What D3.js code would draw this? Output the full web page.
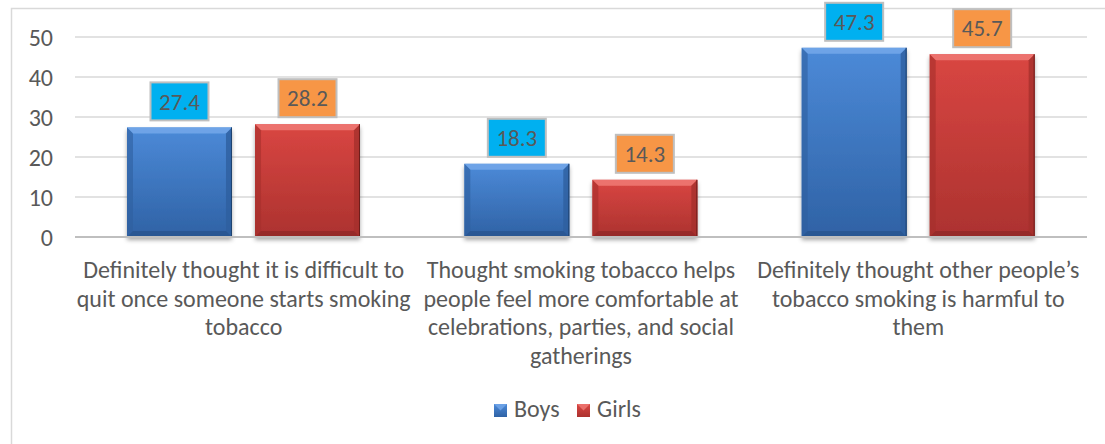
<!DOCTYPE html>
<html>
<head>
<meta charset="utf-8">
<script src="https://cdn.jsdelivr.net/npm/d3@7/dist/d3.min.js"></script>
<style>
  html, body { margin: 0; padding: 0; background: #fff; }
  svg { display: block; }
  text { font-family: Carlito, Lato, "Open Sans", sans-serif; fill: #595959; }
</style>
</head>
<body>
<svg id="chart" width="1105" height="444"></svg>
<script>
// Survey results: share of students (%) by statement and sex
const categories = [
  "Definitely thought it is difficult to quit once someone starts smoking tobacco",
  "Thought smoking tobacco helps people feel more comfortable at celebrations, parties, and social gatherings",
  "Definitely thought other people’s tobacco smoking is harmful to them"
];
const categoryLines = [
  ["Definitely thought it is difficult to", "quit once someone starts smoking", "tobacco"],
  ["Thought smoking tobacco helps", "people feel more comfortable at", "celebrations, parties, and social", "gatherings"],
  ["Definitely thought other people’s", "tobacco smoking is harmful to", "them"]
];
const seriesNames = ["Boys", "Girls"];
const boys = [27.4, 18.3, 47.3];
const girls = [28.2, 14.3, 45.7];
const yTicks = [0, 10, 20, 30, 40, 50];

const values = [boys, girls];

const svg = d3.select("#chart");
const W = 1105, H = 444;
const plot = { left: 75, right: 1087, top: 37, bottom: 237 };

const palette = {
  Boys:  { top: "#4C8AD8", bottom: "#2F62A5", light: "#74A8EA", side: "#2E5F9F", dark: "#1E426F", label: "#00B0F0" },
  Girls: { top: "#D94642", bottom: "#AC322F", light: "#F07A76", side: "#A52F2C", dark: "#6E1E1C", label: "#F79646" }
};

// Chart frame (only top and left edges fall inside the canvas)
svg.append("rect")
  .attr("x", 11.5).attr("y", 8.5)
  .attr("width", W + 20).attr("height", H + 20)
  .attr("fill", "#fff").attr("stroke", "#D9D9D9").attr("stroke-width", 1.5);

const defs = svg.append("defs");
seriesNames.forEach(s => {
  const g = defs.append("linearGradient").attr("id", "grad-" + s)
    .attr("x1", 0).attr("y1", 0).attr("x2", 0).attr("y2", 1);
  g.append("stop").attr("offset", "0%").attr("stop-color", palette[s].top);
  g.append("stop").attr("offset", "100%").attr("stop-color", palette[s].bottom);
});
const shadow = defs.append("filter").attr("id", "barShadow")
  .attr("x", "-20%").attr("y", "-20%").attr("width", "140%").attr("height", "140%");
shadow.append("feDropShadow").attr("dx", 0).attr("dy", 3).attr("stdDeviation", 2.2)
  .attr("flood-color", "#000").attr("flood-opacity", 0.35);

const x0 = d3.scaleBand().domain(d3.range(categories.length)).range([plot.left, plot.right]);
const x1 = d3.scaleBand().domain(seriesNames).range([52, 285]).paddingInner(0.18);
const y = d3.scaleLinear().domain([0, 50]).range([plot.bottom, plot.top]);

// Gridlines
svg.append("g").selectAll("line").data(yTicks.filter(t => t > 0)).join("line")
  .attr("x1", plot.left).attr("x2", plot.right)
  .attr("y1", d => y(d)).attr("y2", d => y(d))
  .attr("stroke", "#D9D9D9").attr("stroke-width", 1.5);

// Y axis labels
const yAxis = d3.axisLeft(y).tickValues(yTicks).tickSize(0).tickPadding(0);
const yg = svg.append("g").attr("transform", `translate(53,0)`).call(yAxis);
yg.select(".domain").remove();
yg.selectAll("text").attr("font-size", 24).attr("fill", "#595959")
  .style("font-family", "Carlito, Lato, sans-serif").attr("dy", "0.35em");

// Bars
const bw = x1.bandwidth();
const bev = 6;
const bars = [];
categories.forEach((c, i) => {
  seriesNames.forEach((s, j) => {
    bars.push({ i, s, v: values[j][i] });
  });
});

const barG = svg.append("g").selectAll("g").data(bars).join("g")
  .attr("transform", d => `translate(${x0(d.i) + x1(d.s)},${y(d.v)})`);

barG.append("rect")
  .attr("width", bw).attr("height", d => y(0) - y(d.v))
  .attr("fill", d => `url(#grad-${d.s})`)
  .attr("filter", "url(#barShadow)");

// bevel: top (light), sides (darker), bottom (darkest)
barG.append("path").attr("fill", d => palette[d.s].light).attr("opacity", 0.85)
  .attr("d", d => `M0,0 L${bw},0 L${bw - bev},${bev} L${bev},${bev} Z`);
barG.append("path").attr("fill", d => palette[d.s].side).attr("opacity", 0.6)
  .attr("d", d => { const h = y(0) - y(d.v); return `M0,0 L${bev},${bev} L${bev},${h - bev} L0,${h} Z`; });
barG.append("path").attr("fill", d => palette[d.s].side).attr("opacity", 0.8)
  .attr("d", d => { const h = y(0) - y(d.v); return `M${bw},0 L${bw - bev},${bev} L${bw - bev},${h - bev} L${bw},${h} Z`; });
barG.append("path").attr("fill", d => palette[d.s].dark).attr("opacity", 0.35)
  .attr("d", d => { const h = y(0) - y(d.v); return `M0,${h} L${bev},${h - bev} L${bw - bev},${h - bev} L${bw},${h} Z`; });
barG.append("line").attr("x1", bw - 0.5).attr("x2", bw - 0.5).attr("y1", 0)
  .attr("y2", d => y(0) - y(d.v)).attr("stroke", d => palette[d.s].dark).attr("stroke-width", 1);

// Baseline axis
svg.append("line").attr("x1", plot.left).attr("x2", plot.right)
  .attr("y1", y(0)).attr("y2", y(0)).attr("stroke", "#BFBFBF").attr("stroke-width", 2);

// Value labels in coloured boxes
const lab = svg.append("g").selectAll("g").data(bars).join("g")
  .attr("transform", d => `translate(${x0(d.i) + x1(d.s) + bw / 2},${y(d.v) - 26})`);
lab.append("rect").attr("x", -29).attr("y", -19).attr("width", 58).attr("height", 38)
  .attr("fill", d => palette[d.s].label).attr("stroke", "#BFBFBF").attr("stroke-width", 2);
lab.append("text").attr("text-anchor", "middle").attr("dy", "0.36em")
  .attr("font-size", 23).text(d => d.v.toFixed(1));

// Category labels
const cat = svg.append("g").selectAll("text").data(categoryLines).join("text")
  .attr("text-anchor", "middle").attr("font-size", 24)
  .attr("transform", (d, i) => `translate(${x0(i) + x0.bandwidth() / 2},278)`);
cat.selectAll("tspan").data(d => d).join("tspan")
  .attr("x", 0).attr("dy", (d, k) => k === 0 ? 0 : 28.6).text(d => d);

// Legend
const leg = svg.append("g").attr("transform", "translate(494,404)");
const legX = [0, 83];
seriesNames.forEach((s, k) => {
  const g = leg.append("g").attr("transform", `translate(${legX[k]},0)`);
  g.append("rect").attr("width", 13).attr("height", 13).attr("fill", `url(#grad-${s})`);
  g.append("path").attr("fill", palette[s].light).attr("opacity", 0.8)
    .attr("d", "M0,0 L13,0 L6.5,6.5 Z");
  g.append("text").attr("x", 20).attr("y", 13).attr("font-size", 24).text(s);
});
</script>
</body>
</html>
